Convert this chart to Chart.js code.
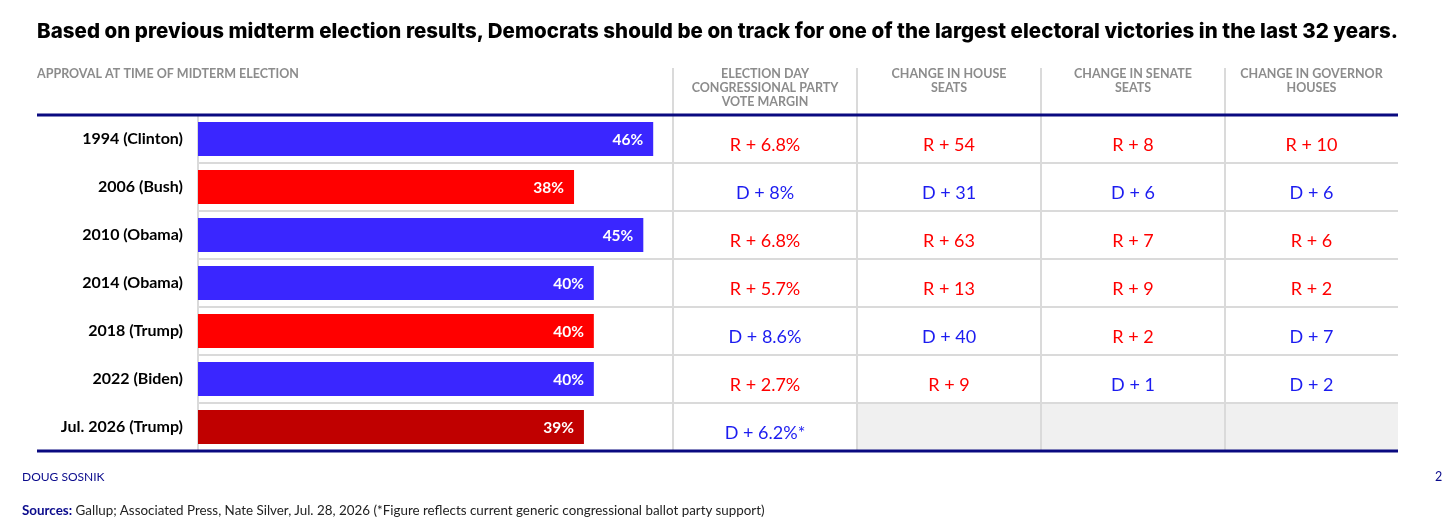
<!DOCTYPE html>
<html>
<head>
<meta charset="utf-8">
<script src="https://cdn.jsdelivr.net/npm/chart.js@4.4.1/dist/chart.umd.min.js"></script>
<style>
  html,body{margin:0;padding:0;background:#fff;width:1456px;height:525px;overflow:hidden;font-family:Lato,"Open Sans",sans-serif;}
  #title{position:absolute;left:37px;top:18px;font-family:Inter,Lato,sans-serif;font-weight:800;font-size:20.5px;color:#000;white-space:nowrap;letter-spacing:-0.3px;}
  #wrap{position:absolute;left:0;top:0;width:1456px;height:525px;}
  #author{position:absolute;left:22px;top:469px;font-size:12px;color:#0a0a8c;font-family:Lato,sans-serif;}
  #page{position:absolute;left:1435px;top:469px;font-size:12.5px;color:#0a0a8c;font-family:Lato,sans-serif;}
  #sources{position:absolute;left:22px;top:502px;font-size:13.4px;color:#222;font-family:Lato,sans-serif;white-space:nowrap;}
  #sources b{color:#0a0a8c;}
</style>
</head>
<body>
<div id="wrap"><canvas id="c" width="1456" height="525"></canvas></div>
<div id="title">Based on previous midterm election results, Democrats should be on track for one of the largest electoral victories in the last 32 years.</div>
<div id="author">DOUG SOSNIK</div>
<div id="page">2</div>
<div id="sources"><b>Sources:</b> Gallup; Associated Press, Nate Silver, Jul. 28, 2026 (*Figure reflects current generic congressional ballot party support)</div>
<script>
// ---- DATA ----
const categories = ['1994 (Clinton)', '2006 (Bush)', '2010 (Obama)', '2014 (Obama)', '2018 (Trump)', '2022 (Biden)', 'Jul. 2026 (Trump)'];
const approval = [46, 38, 45, 40, 40, 40, 39];
const presidentParty = ['D', 'R', 'D', 'D', 'R', 'D', 'R'];
const isCurrent = [false, false, false, false, false, false, true];
const voteMargin = ['R + 6.8%', 'D + 8%', 'R + 6.8%', 'R + 5.7%', 'D + 8.6%', 'R + 2.7%', 'D + 6.2%*'];
const houseSeats = ['R + 54', 'D + 31', 'R + 63', 'R + 13', 'D + 40', 'R + 9', null];
const senateSeats = ['R + 8', 'D + 6', 'R + 7', 'R + 9', 'R + 2', 'D + 1', null];
const governorHouses = ['R + 10', 'D + 6', 'R + 6', 'R + 2', 'D + 7', 'D + 2', null];
const barHeader = 'APPROVAL AT TIME OF MIDTERM ELECTION';
const columnHeaders = [
  ['ELECTION DAY', 'CONGRESSIONAL PARTY', 'VOTE MARGIN'],
  ['CHANGE IN HOUSE', 'SEATS'],
  ['CHANGE IN SENATE', 'SEATS'],
  ['CHANGE IN GOVERNOR', 'HOUSES']
];
const xMax = 48;

// ---- STYLE ----
const BLUE = '#3a26ff', RED = '#ff0000', DARKRED = '#c00000';
const TXT_BLUE = '#1c1cf0', TXT_RED = '#ff0000';
const NAVY = '#0a0a80', GRID = '#dadada', HEAD = '#8c8c8c';
const colEdges = [673, 857, 1041, 1225, 1398];
const tableLeft = 37, barLeft = 198;

// fit the title to the table width
(function fitTitle() {
  const el = document.getElementById('title');
  const target = colEdges[4] - tableLeft;
  const w = el.getBoundingClientRect().width;
  const chars = el.textContent.length;
  const cur = parseFloat(getComputedStyle(el).letterSpacing) || 0;
  el.style.letterSpacing = (cur + (target - w) / chars) + 'px';
})();

const barColors = approval.map((v, i) => isCurrent[i] ? DARKRED : (presidentParty[i] === 'D' ? BLUE : RED));
const tableCols = [voteMargin, houseSeats, senateSeats, governorHouses];

const tablePlugin = {
  id: 'tablePlugin',
  beforeDatasetsDraw(chart) {
    const ctx = chart.ctx, ys = chart.scales.y, area = chart.chartArea;
    const n = categories.length;
    const step = (ys.getPixelForValue(1) - ys.getPixelForValue(0));
    ctx.save();
    for (let i = 0; i < n; i++) {
      const yc = ys.getPixelForValue(i);
      if (houseSeats[i] === null) {
        ctx.fillStyle = '#f0f0f0';
        ctx.fillRect(colEdges[1], yc - step / 2 + 1, colEdges[4] - colEdges[1], step - 2);
      }
    }
    ctx.strokeStyle = GRID; ctx.lineWidth = 2;
    for (let i = 0; i < n - 1; i++) {
      const y = ys.getPixelForValue(i) + step / 2;
      ctx.beginPath(); ctx.moveTo(barLeft, y); ctx.lineTo(colEdges[4], y); ctx.stroke();
    }
    ctx.beginPath(); ctx.moveTo(barLeft, area.top); ctx.lineTo(barLeft, area.bottom); ctx.stroke();
    for (let k = 0; k < 4; k++) {
      const x = colEdges[k];
      ctx.beginPath(); ctx.moveTo(x, 68); ctx.lineTo(x, area.bottom); ctx.stroke();
    }
    ctx.strokeStyle = NAVY; ctx.lineWidth = 3;
    ctx.beginPath(); ctx.moveTo(tableLeft, area.top); ctx.lineTo(colEdges[4], area.top); ctx.stroke();
    ctx.beginPath(); ctx.moveTo(tableLeft, area.bottom); ctx.lineTo(colEdges[4], area.bottom); ctx.stroke();
    ctx.fillStyle = HEAD;
    ctx.font = 'bold 12.5px Lato, sans-serif';
    ctx.textBaseline = 'middle';
    ctx.textAlign = 'left';
    ctx.fillText(barHeader, tableLeft, 74);
    ctx.textAlign = 'center';
    columnHeaders.forEach((lines, k) => {
      const cx = (colEdges[k] + colEdges[k + 1]) / 2;
      lines.forEach((t, j) => ctx.fillText(t, cx, 74 + j * 14));
    });
    ctx.font = '18px Lato, sans-serif';
    tableCols.forEach((col, k) => {
      const cx = (colEdges[k] + colEdges[k + 1]) / 2;
      col.forEach((t, i) => {
        if (t === null) return;
        ctx.fillStyle = t.charAt(0) === 'R' ? TXT_RED : TXT_BLUE;
        ctx.fillText(t, cx, ys.getPixelForValue(i) + 6);
      });
    });
    ctx.restore();
  },
  afterDatasetsDraw(chart) {
    const ctx = chart.ctx;
    const meta = chart.getDatasetMeta(0);
    ctx.save();
    ctx.fillStyle = '#fff';
    ctx.font = 'bold 15.5px Lato, sans-serif';
    ctx.textAlign = 'right';
    ctx.textBaseline = 'middle';
    meta.data.forEach((bar, i) => {
      ctx.fillText(approval[i] + '%', bar.x - 10, bar.y + 1);
    });
    ctx.restore();
  }
};

new Chart(document.getElementById('c'), {
  type: 'bar',
  data: {
    labels: categories,
    datasets: [{
      data: approval,
      backgroundColor: barColors,
      borderWidth: 0,
      categoryPercentage: 1,
      barPercentage: 0.71
    }]
  },
  options: {
    indexAxis: 'y',
    responsive: false,
    animation: false,
    devicePixelRatio: 1,
    layout: { padding: { left: 0, right: 1456 - 673, top: 115, bottom: 74 } },
    plugins: { legend: { display: false }, tooltip: { enabled: false } },
    scales: {
      x: { min: 0, max: xMax, display: false },
      y: {
        grid: { display: false, drawTicks: false },
        border: { display: false },
        ticks: { color: '#000', font: { family: 'Lato, sans-serif', weight: 'bold', size: 16 }, padding: 15 },
        afterFit(scale) { scale.width = barLeft; }
      }
    }
  },
  plugins: [tablePlugin]
});
</script>
</body>
</html>
